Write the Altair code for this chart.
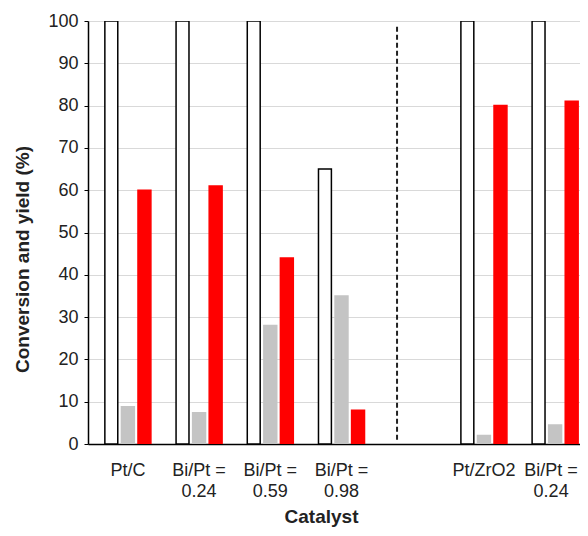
import altair as alt
import pandas as pd

categories = ["Pt/C", "Bi/Pt =|0.24", "Bi/Pt =|0.59", "Bi/Pt =|0.98", " ", "Pt/ZrO2", "Bi/Pt =|0.24 "]
conversion = [100, 100, 100, 65, None, 100, 100]
byproduct = [8.8, 7.4, 28, 35, None, 2.0, 4.5]
product = [60, 61, 44, 8, None, 80, 81]
series = ["Conversion", "Byproduct yield", "Product yield"]
colors = ["#ffffff", "#c4c4c4", "#ff0000"]
strokes = ["#000000", "#c4c4c4", "#ff0000"]

rows = []
for i, c in enumerate(categories):
    for s, vals in zip(series, [conversion, byproduct, product]):
        if vals[i] is not None:
            rows.append({"cat": c, "series": s, "value": vals[i]})
df = pd.DataFrame(rows)

sep_df = pd.DataFrame({"cat": [" "], "y0": [1], "y1": [99]})

FONT = "Liberation Sans"

xscale = alt.Scale(domain=categories, range=[0, 507], paddingInner=0, paddingOuter=0.06)

bars = alt.Chart(df).mark_bar(clip=True, strokeWidth=1.5).encode(
    x=alt.X("cat:N", scale=xscale, title="Catalyst",
            axis=alt.Axis(labelExpr="split(trim(datum.label), '|')", labelAngle=0,
                          labelOffset=alt.condition("datum.value == 'Bi/Pt =|0.24 '",
                                                    alt.value(-4), alt.value(0)),
                          ticks=False, labelPadding=17, labelLineHeight=21,
                          titlePadding=7, titleX=233,
                          domainColor="#000000", domainWidth=1.5)),
    xOffset=alt.XOffset("series:N", sort=series,
                        scale=alt.Scale(domain=series, paddingInner=0.22, paddingOuter=0.76)),
    y=alt.Y("value:Q", scale=alt.Scale(domain=[0, 100]), title="Conversion and yield (%)",
            axis=alt.Axis(values=list(range(0, 101, 10)), tickSize=4, tickColor="#000000",
                          labelPadding=6, titlePadding=15, titleY=238,
                          domainColor="#000000",
                          domainWidth=1.5, grid=True, gridColor="#d9d9d9")),
    fill=alt.Color("series:N", scale=alt.Scale(domain=series, range=colors), legend=None),
    stroke=alt.Stroke("series:N", scale=alt.Scale(domain=series, range=strokes), legend=None),
)

sep = alt.Chart(sep_df).mark_rule(color="#222222", strokeWidth=2, strokeDash=[5, 3]).encode(
    x=alt.X("cat:N", scale=xscale, bandPosition=0.28),
    y=alt.Y("y0:Q"),
    y2="y1:Q",
)

chart = alt.layer(bars, sep).properties(
    width=492, height=423,
    autosize=alt.AutoSizeParams(type="none"),
    padding={"left": 80, "top": 13, "right": 0, "bottom": 84},
).configure_view(stroke=None).configure_axis(
    labelFont=FONT, labelFontSize=18, labelColor="#222222",
    titleFont=FONT, titleFontSize=19, titleFontWeight="bold", titleColor="#222222",
)

chart.save("out.html", embed_options={"renderer": "svg", "actions": False})
